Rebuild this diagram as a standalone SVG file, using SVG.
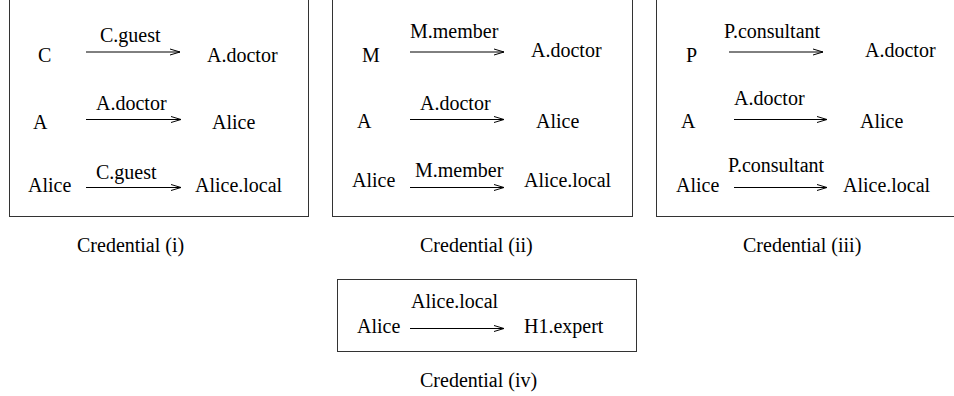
<svg xmlns="http://www.w3.org/2000/svg" width="954" height="396" viewBox="0 0 954 396">
<style>
text{font-family:"Liberation Serif","Times New Roman",serif;font-size:20px;fill:#000}
.box{fill:none;stroke:#333;stroke-width:1}
.arr{stroke:#000;stroke-width:1;fill:none;marker-end:url(#ah)}
</style>
<defs>
<marker id="ah" markerUnits="userSpaceOnUse" markerWidth="12" markerHeight="8" refX="11" refY="4" orient="auto" overflow="visible">
<path d="M1,1 L11,4 L1,7" fill="none" stroke="#000" stroke-width="1"/>
</marker>
</defs>
<rect x="0" y="0" width="954" height="396" fill="#fff"/>
<g id="cred1">
<rect class="box" x="9.5" y="-2" width="299" height="218.5"/>
<text x="38" y="62">C</text>
<text x="100" y="42">C.guest</text>
<text x="207" y="62">A.doctor</text>
<text x="33" y="129">A</text>
<text x="96" y="110">A.doctor</text>
<text x="212" y="129">Alice</text>
<text x="28" y="192">Alice</text>
<text x="96" y="179">C.guest</text>
<text x="195" y="192">Alice.local</text>
<text x="77" y="252">Credential (i)</text>
</g>
<g id="cred2">
<rect class="box" x="332.5" y="-2" width="300" height="218.5"/>
<text x="362" y="62">M</text>
<text x="410" y="38">M.member</text>
<text x="531" y="57">A.doctor</text>
<text x="357" y="128">A</text>
<text x="420" y="110">A.doctor</text>
<text x="536" y="128">Alice</text>
<text x="352" y="187">Alice</text>
<text x="415" y="177">M.member</text>
<text x="524" y="187">Alice.local</text>
<text x="420" y="252">Credential (ii)</text>
</g>
<g id="cred3">
<rect class="box" x="656.5" y="-2" width="310" height="218.5"/>
<text x="686" y="62">P</text>
<text x="724" y="38">P.consultant</text>
<text x="865" y="57">A.doctor</text>
<text x="681" y="128">A</text>
<text x="734" y="105">A.doctor</text>
<text x="860" y="128">Alice</text>
<text x="676" y="192">Alice</text>
<text x="728" y="172">P.consultant</text>
<text x="843" y="192">Alice.local</text>
<text x="743" y="252">Credential (iii)</text>
</g>
<g id="cred4">
<rect class="box" x="337.5" y="279.5" width="299" height="72"/>
<text x="411" y="308">Alice.local</text>
<text x="357" y="333">Alice</text>
<text x="524" y="333">H1.expert</text>
<text x="420" y="387">Credential (iv)</text>
</g>
<g id="connectors">
<line class="arr" x1="86" y1="52" x2="180" y2="52"/>
<line class="arr" x1="86" y1="119.5" x2="181" y2="119.5"/>
<line class="arr" x1="86" y1="187.5" x2="181" y2="187.5"/>
<line class="arr" x1="410" y1="52" x2="504" y2="52"/>
<line class="arr" x1="410" y1="119.5" x2="504" y2="119.5"/>
<line class="arr" x1="410" y1="187.5" x2="504" y2="187.5"/>
<line class="arr" x1="729" y1="52" x2="823" y2="52"/>
<line class="arr" x1="734" y1="119.5" x2="827" y2="119.5"/>
<line class="arr" x1="734" y1="187.5" x2="827" y2="187.5"/>
<line class="arr" x1="410" y1="328.5" x2="504" y2="328.5"/>
</g>
</svg>
